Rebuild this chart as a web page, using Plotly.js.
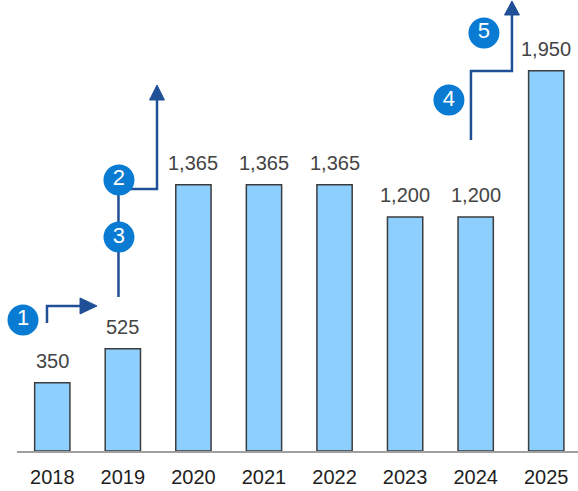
<!DOCTYPE html>
<html>
<head>
<meta charset="utf-8">
<script src="https://cdn.plot.ly/plotly-3.0.1.min.js"></script>
<style>html,body{margin:0;padding:0;background:#fff;}#chart{width:578px;height:491px;}</style>
</head>
<body>
<div id="chart"></div>
<script>
// Data
var years = [2018, 2019, 2020, 2021, 2022, 2023, 2024, 2025];
var values = [350, 525, 1365, 1365, 1365, 1200, 1200, 1950];
var valueLabels = ['350', '525', '1,365', '1,365', '1,365', '1,200', '1,200', '1,950'];

// Step markers (numbered circles), in data units (year, value)
var stepNames = ['1', '2', '3', '4', '5'];
var stepX = [2017.585, 2018.945, 2018.945, 2023.621, 2024.117];
var stepY = [672, 1390, 1097, 1800, 2144];

// Arrow polylines (data units)
var arrowLines = [
  [[2017.925, 656], [2017.925, 744], [2018.42, 744]],
  [[2018.938, 790], [2018.938, 1344], [2019.484, 1344], [2019.484, 1810]],
  [[2023.933, 1595], [2023.933, 1949], [2024.514, 1949], [2024.514, 2240]]
];
var arrowHeads = [
  [[2018.393, 785], [2018.634, 744], [2018.393, 703]],
  [[2019.378, 1800], [2019.484, 1877], [2019.590, 1800]],
  [[2024.408, 2236], [2024.514, 2308], [2024.620, 2236]]
];

var FONT = "'Liberation Sans', Arial, Helvetica, sans-serif";
var navy = '#1f4f96';
var shapes = [];
function pathOf(pts, close) {
  var s = pts.map(function (p, i) { return (i ? 'L ' : 'M ') + p[0] + ',' + p[1]; }).join(' ');
  return close ? s + ' Z' : s;
}
arrowLines.forEach(function (pts) {
  shapes.push({type: 'path', xref: 'x', yref: 'y', layer: 'below', path: pathOf(pts, false),
    line: {color: navy, width: 2.5}});
});
arrowHeads.forEach(function (pts) {
  shapes.push({type: 'path', xref: 'x', yref: 'y', layer: 'below', path: pathOf(pts, true),
    fillcolor: navy, line: {color: navy, width: 1}});
});

var annotations = years.map(function (y, i) {
  return {x: y, y: values[i], xref: 'x', yref: 'y', text: valueLabels[i], showarrow: false,
    yanchor: 'bottom', yshift: 9, font: {family: FONT, size: 20, color: '#444444'}};
});

var bars = {
  type: 'bar', x: years, y: values, width: 0.5,
  marker: {color: '#8dcfff', line: {color: '#3c3c3c', width: 1.5}},
  hoverinfo: 'none'
};
var steps = {
  type: 'scatter', mode: 'markers+text', x: stepX, y: stepY, text: stepNames,
  textposition: 'middle center', cliponaxis: false,
  marker: {size: 31, color: '#0a7bd2', line: {width: 0}},
  textfont: {family: FONT, size: 22, color: '#ffffff'},
  hoverinfo: 'none'
};

var layout = {
  width: 578, height: 491,
  margin: {l: 17, r: 0, t: 0, b: 40, pad: 0},
  paper_bgcolor: '#ffffff', plot_bgcolor: '#ffffff',
  showlegend: false,
  font: {family: FONT},
  xaxis: {
    type: 'linear', range: [2017.5, 2025.45], tickvals: years, ticktext: years.map(String),
    showgrid: false, zeroline: false, showline: true, linecolor: '#a0a0a0', linewidth: 2,
    ticks: '', ticklabelstandoff: 7,
    tickfont: {family: FONT, size: 20, color: '#1e1e1e'}
  },
  yaxis: {
    range: [0, 2313], visible: false, showgrid: false, zeroline: false
  },
  shapes: shapes,
  annotations: annotations
};

Plotly.newPlot('chart', [bars, steps], layout, {displayModeBar: false, staticPlot: true});
</script>
</body>
</html>
